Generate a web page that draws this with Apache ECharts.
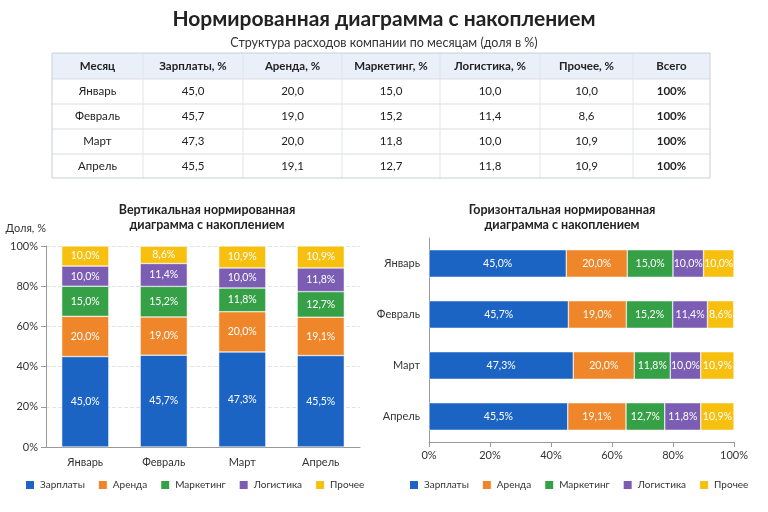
<!DOCTYPE html>
<html style="height: 100%">
<head>
<meta charset="utf-8">
</head>
<body style="height: 100%; margin: 0; background: #fff">
<div id="container" style="width: 768px; height: 512px"></div>
<script src="https://cdn.jsdelivr.net/npm/echarts@6/dist/echarts.min.js"></script>
<script>
var months = ['Январь', 'Февраль', 'Март', 'Апрель'];
var seriesNames = ['Зарплаты', 'Аренда', 'Маркетинг', 'Логистика', 'Прочее'];
var salaries = [45.0, 45.7, 47.3, 45.5];
var rent = [20.0, 19.0, 20.0, 19.1];
var marketing = [15.0, 15.2, 11.8, 12.7];
var logistics = [10.0, 11.4, 10.0, 11.8];
var other = [10.0, 8.6, 10.9, 10.9];
var totals = ['100%', '100%', '100%', '100%'];
var tableHeader = ['Месяц', 'Зарплаты, %', 'Аренда, %', 'Маркетинг, %', 'Логистика, %', 'Прочее, %', 'Всего'];
var colors = ['#1c64c4', '#f0862a', '#36a047', '#7b5db4', '#f7c00f'];

var allValues = [salaries, rent, marketing, logistics, other];
var FONT = 'Lato';

var dom = document.getElementById('container');
var myChart = echarts.init(dom);

function fmt(v) {
    return v.toFixed(1).replace('.', ',');
}

// table drawn with graphic elements
var colX = [52, 143, 243, 342, 440, 540, 633, 710];
var rowY = [53, 79, 104, 129, 154, 178];
var graphics = [];
graphics.push({
    type: 'rect', shape: { x: colX[0], y: rowY[0], width: colX[7] - colX[0], height: rowY[1] - rowY[0] },
    style: { fill: '#eaf0f9' }
});
for (var r = 1; r < rowY.length - 1; r++) {
    graphics.push({
        type: 'line', shape: { x1: colX[0], y1: rowY[r], x2: colX[7], y2: rowY[r] },
        style: { stroke: '#d9dde3', lineWidth: 1 }
    });
}
for (var c = 1; c < colX.length - 1; c++) {
    graphics.push({
        type: 'line', shape: { x1: colX[c], y1: rowY[0], x2: colX[c], y2: rowY[5] },
        style: { stroke: '#e1e4e8', lineWidth: 1 }
    });
}
graphics.push({
    type: 'rect', shape: { x: colX[0], y: rowY[0], width: colX[7] - colX[0], height: rowY[5] - rowY[0] },
    style: { fill: 'none', stroke: '#c9ced6', lineWidth: 1 }
});
function cellText(txt, c, r, bold) {
    graphics.push({
        type: 'text',
        x: (colX[c] + colX[c + 1]) / 2,
        y: (rowY[r] + rowY[r + 1]) / 2,
        style: {
            text: txt, fill: '#222', font: (bold ? 'bold ' : '') + '11.5px ' + FONT,
            align: 'center', verticalAlign: 'middle'
        }
    });
}
for (var h = 0; h < tableHeader.length; h++) cellText(tableHeader[h], h, 0, true);
for (var i = 0; i < months.length; i++) {
    cellText(months[i], 0, i + 1, false);
    for (var s = 0; s < allValues.length; s++) cellText(fmt(allValues[s][i]), s + 1, i + 1, false);
    cellText(totals[i], 6, i + 1, true);
}

var series = [];
seriesNames.forEach(function (name, k) {
    var lbl = {
        show: true, color: '#fff', fontFamily: FONT, fontSize: 10.5,
        formatter: function (p) { return fmt(p.value) + '%'; }
    };
    series.push({
        name: name, type: 'bar', stack: 'v', xAxisIndex: 0, yAxisIndex: 0,
        data: allValues[k], barWidth: '60%', color: colors[k],
        itemStyle: { borderColor: '#fff', borderWidth: 0.5 },
        label: lbl
    });
    series.push({
        name: name, type: 'bar', stack: 'h', xAxisIndex: 1, yAxisIndex: 1,
        data: allValues[k], barWidth: '54%', color: colors[k],
        itemStyle: { borderColor: '#fff', borderWidth: 0.5 },
        label: lbl
    });
});

var legendBase = {
    itemWidth: 10, itemHeight: 10, itemGap: 12, icon: 'rect',
    textStyle: { fontFamily: FONT, fontSize: 10, color: '#333' },
    data: seriesNames
};

var option = {
    animation: false,
    textStyle: { fontFamily: FONT },
    title: [
        {
            text: 'Нормированная диаграмма с накоплением', left: 'center', top: 4,
            textStyle: { fontSize: 21, fontWeight: 'bold', color: '#222', fontFamily: FONT }
        },
        {
            text: 'Структура расходов компании по месяцам (доля в %)', left: 'center', top: 31,
            textStyle: { fontSize: 12.5, fontWeight: 'normal', color: '#333', fontFamily: FONT }
        },
        {
            text: 'Вертикальная нормированная\nдиаграмма с накоплением', left: 202, top: 197, textAlign: 'center',
            textStyle: { fontSize: 12.5, fontWeight: 'bold', color: '#222', lineHeight: 15, fontFamily: FONT }
        },
        {
            text: 'Горизонтальная нормированная\nдиаграмма с накоплением', left: 557, top: 197, textAlign: 'center',
            textStyle: { fontSize: 12.5, fontWeight: 'bold', color: '#222', lineHeight: 15, fontFamily: FONT }
        }
    ],
    legend: [
        Object.assign({ left: 19, top: 474 }, legendBase),
        Object.assign({ left: 403, top: 474 }, legendBase)
    ],
    grid: [
        { left: 46, top: 246, width: 314, height: 201 },
        { left: 429, top: 238, width: 305, height: 204 }
    ],
    xAxis: [
        {
            type: 'category', gridIndex: 0, data: months,
            axisLine: { lineStyle: { color: '#999' } }, axisTick: { show: false },
            axisLabel: { color: '#333', fontSize: 11, margin: 10 }
        },
        {
            type: 'value', gridIndex: 1, min: 0, max: 100, interval: 20,
            axisLine: { show: true, lineStyle: { color: '#999' } },
            axisTick: { show: true, lineStyle: { color: '#999' } },
            splitLine: { show: false },
            axisLabel: { color: '#333', fontSize: 11, formatter: '{value}%' }
        }
    ],
    yAxis: [
        {
            type: 'value', gridIndex: 0, min: 0, max: 100, interval: 20,
            name: 'Доля, %', nameLocation: 'end', nameGap: 12,
            nameTextStyle: { color: '#333', fontSize: 11, align: 'right', padding: [0, 0, 0, 0] },
            axisLine: { show: true, lineStyle: { color: '#999' } },
            axisTick: { show: true, lineStyle: { color: '#999' } },
            splitLine: { lineStyle: { type: 'dashed', color: '#e3e3e3' } },
            axisLabel: { color: '#333', fontSize: 11, formatter: '{value}%' }
        },
        {
            type: 'category', gridIndex: 1, data: months, inverse: true,
            axisLine: { lineStyle: { color: '#999' } }, axisTick: { show: false },
            axisLabel: { color: '#333', fontSize: 11, margin: 9 }
        }
    ],
    graphic: graphics,
    series: series
};

myChart.setOption(option);
</script>
</body>
</html>
